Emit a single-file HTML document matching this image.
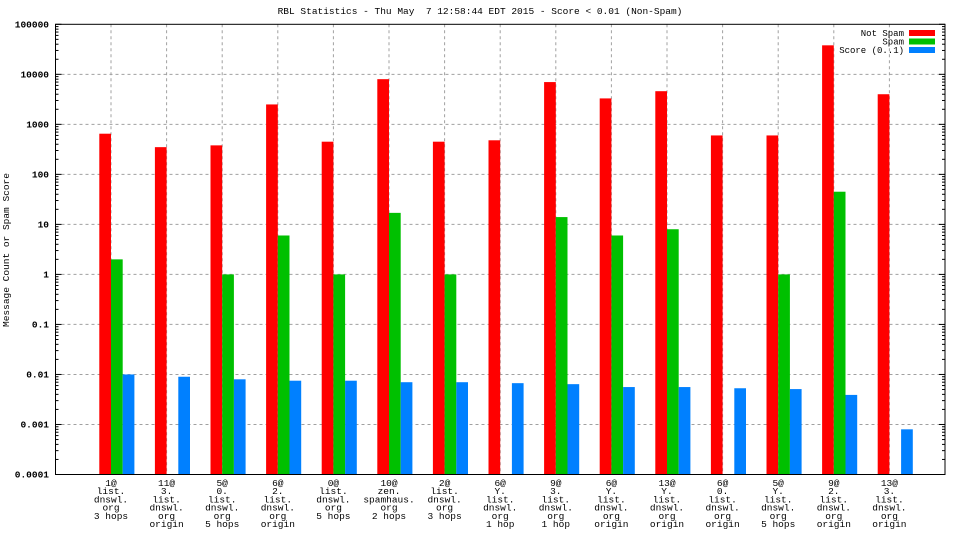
<!DOCTYPE html>
<html><head><meta charset="utf-8"><style>
body{margin:0;background:#fff;}
svg{display:block;font-family:"Liberation Mono",monospace;}
</style></head><body>
<svg id="c" width="960" height="540"></svg>
<script>
const categories=[["1@","list.","dnswl.","org","3 hops"],["11@","3.","list.","dnswl.","org","origin"],["5@","0.","list.","dnswl.","org","5 hops"],["6@","2.","list.","dnswl.","org","origin"],["0@","list.","dnswl.","org","5 hops"],["10@","zen.","spamhaus.","org","2 hops"],["2@","list.","dnswl.","org","3 hops"],["6@","Y.","list.","dnswl.","org","1 hop"],["9@","3.","list.","dnswl.","org","1 hop"],["6@","Y.","list.","dnswl.","org","origin"],["13@","Y.","list.","dnswl.","org","origin"],["6@","0.","list.","dnswl.","org","origin"],["5@","Y.","list.","dnswl.","org","5 hops"],["9@","2.","list.","dnswl.","org","origin"],["13@","3.","list.","dnswl.","org","origin"]];
const notSpam=[650,350,380,2500,450,8000,450,480,7000,3300,4600,600,600,38000,4000];
const spam=[2,0,1,6,1,17,1,0,14,6,8,0,1,45,0];
const score=[0.0100,0.0090,0.0080,0.0075,0.0075,0.0070,0.0070,0.0067,0.0064,0.0056,0.0056,0.0053,0.0051,0.0039,0.0008];
const yTicks=["0.0001","0.001","0.01","0.1","1","10","100","1000","10000","100000"];
const NS="http://www.w3.org/2000/svg",svg=document.getElementById('c');
const L=55.5,R=945,T=24.3,B=474.5;
function y(v){return B-(Math.log10(v)+4)*(B-T)/9;}
function xc(i){return 111+i*55.6;}
const bw=11.7;
function mk(t,a,p){const e=document.createElementNS(NS,t);for(const k in a)e.setAttribute(k,a[k]);(p||svg).appendChild(e);return e;}
yTicks.forEach((t,k)=>{const yy=y(parseFloat(t));
 if(k>0&&k<yTicks.length-1){const g=mk('line',{x1:L,x2:R,y1:yy,y2:yy,stroke:'#a0a0a0','stroke-dasharray':'3,3'});
 
 }
 mk('line',{x1:L,x2:L+6,y1:yy,y2:yy,stroke:'#000'});mk('line',{x1:R,x2:R-6,y1:yy,y2:yy,stroke:'#000'});
 for(let m=2;m<10&&k<yTicks.length-1;m++){const ym=y(parseFloat(t)*m);mk('line',{x1:L,x2:L+3,y1:ym,y2:ym,stroke:'#000'});mk('line',{x1:R,x2:R-3,y1:ym,y2:ym,stroke:'#000'});}
 const tx=mk('text',{x:49,y:yy+3,'text-anchor':'end','font-size':'9.5','font-weight':'bold'});tx.textContent=t;
 
 
});
categories.forEach((c,i)=>{const x=xc(i);
 if(x>L+20){const g=mk('line',{x1:x,x2:x,y1:T,y2:B,stroke:'#a0a0a0','stroke-dasharray':'3,3'});
 
 }
 const t=mk('text',{'text-anchor':'middle','font-size':'9.5'});
 
 
 c.forEach((s,j)=>{const ts=mk('tspan',{x:x,y:486+j*8.2},t);ts.textContent=s;});
 const r=mk('rect',{x:x-bw,y:y(notSpam[i]),width:bw,height:B-y(notSpam[i]),fill:'#ff0000'});
 
 
 if(spam[i]>0){const g=mk('rect',{x:x,y:y(spam[i]),width:bw,height:B-y(spam[i]),fill:'#00c000'});
 
 }
 const b=mk('rect',{x:x+bw,y:y(score[i]),width:bw,height:B-y(score[i]),fill:'#0080ff'});
 
 
});
const fr=mk('rect',{x:L,y:T,width:R-L,height:B-T,fill:'none',stroke:'#000'});


const ti=mk('text',{x:480,y:14,'text-anchor':'middle','font-size':'9.5'});ti.textContent="RBL Statistics - Thu May  7 12:58:44 EDT 2015 - Score < 0.01 (Non-Spam)";


ti.style.whiteSpace='pre';
const yl=mk('text',{x:0,y:0,'text-anchor':'middle','font-size':'9.5',transform:'translate(9,250) rotate(-90)'});yl.textContent="Message Count or Spam Score";


[["Not Spam","#ff0000"],["Spam","#00c000"],["Score (0..1)","#0080ff"]].forEach((l,k)=>{
 const t=mk('text',{x:904,y:36+k*8.5,'text-anchor':'end','font-size':'9'});t.textContent=l[0];
 
 
 const r=mk('rect',{x:909,y:30+k*8.5,width:26,height:6,fill:l[1]});
 
 
});
</script>
</body></html>
